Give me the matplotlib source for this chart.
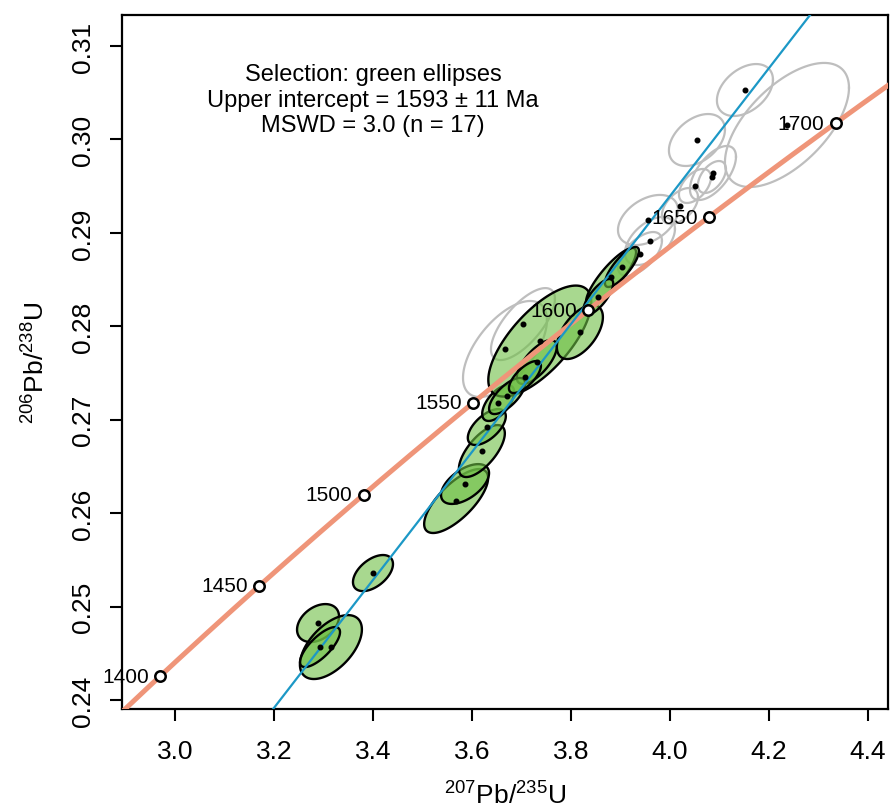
import numpy as np
import matplotlib
matplotlib.use("Agg")
import matplotlib.pyplot as plt

plt.rcParams['font.family'] = ['Liberation Sans', 'DejaVu Sans']
plt.rcParams['mathtext.fontset'] = 'custom'
plt.rcParams['mathtext.rm'] = 'Liberation Sans'
plt.rcParams['mathtext.default'] = 'regular'

# decay constants (1/yr)
lam235 = 9.8485e-10
lam238 = 1.55125e-10

# selected analyses (green): 207Pb/235U, 206Pb/238U, error half-widths, error correlation
sel_x = [3.400, 3.289, 3.315, 3.293, 3.568, 3.586, 3.620, 3.630, 3.653,
         3.737, 3.818, 3.881, 3.903, 3.731, 3.671, 3.707, 3.855]
sel_y = [0.25359, 0.24824, 0.24567, 0.24567, 0.26130, 0.26312, 0.26665, 0.26922, 0.27179,
         0.27842, 0.27939, 0.28528, 0.28635, 0.27618, 0.27254, 0.27457, 0.28313]
sel_ex = [0.0404, 0.0424, 0.0626, 0.0404, 0.0646, 0.0485, 0.0464, 0.0384, 0.0323,
          0.1040, 0.0465, 0.0505, 0.0343, 0.0404, 0.0364, 0.0323, 0.0303]
sel_ey = [0.00193, 0.00203, 0.00342, 0.00214, 0.00342, 0.00213, 0.00278, 0.00192, 0.00192,
          0.00594, 0.00289, 0.00310, 0.00214, 0.00235, 0.00193, 0.00171, 0.00193]
sel_rho = [0.50, 0.35, 0.55, 0.75, 0.72, 0.55, 0.68, 0.60, 0.60,
           0.70, 0.55, 0.85, 0.80, 0.70, 0.70, 0.70, 0.75]

# rejected analyses (grey)
rej_x = [4.1515, 4.0545, 4.2364, 4.0869, 4.0848, 4.0505, 3.9556, 3.9596, 4.0202,
         3.6667, 3.7030, 3.9394]
rej_y = [0.30529, 0.29994, 0.30155, 0.29641, 0.29598, 0.29502, 0.29138, 0.28913, 0.29287,
         0.27757, 0.28024, 0.28774]
rej_ex = [0.0566, 0.0566, 0.1253, 0.0465, 0.0283, 0.0323, 0.0606, 0.0505, 0.0364,
          0.0848, 0.0646, 0.0444]
rej_ey = [0.00278, 0.00278, 0.00664, 0.00289, 0.00171, 0.00182, 0.00268, 0.00257, 0.00193,
          0.00514, 0.00385, 0.00235]
rej_rho = [0.40, 0.40, 0.60, 0.60, 0.50, 0.50, 0.40, 0.50, 0.50, 0.60, 0.70, 0.60]

# concordia age ticks (Ma) and discordia intercepts (Ma)
age_ticks = [1400, 1450, 1500, 1550, 1600, 1650, 1700]
upper_int = 1593
lower_int = 245

xticks = [3.0, 3.2, 3.4, 3.6, 3.8, 4.0, 4.2, 4.4]
yticks = [0.24, 0.25, 0.26, 0.27, 0.28, 0.29, 0.30, 0.31]

info = "Selection: green ellipses\nUpper intercept = 1593 \u00b1 11 Ma\nMSWD = 3.0 (n = 17)"


def conc(t_ma):
    t = np.asarray(t_ma, dtype=float) * 1e6
    return np.exp(lam235 * t) - 1, np.exp(lam238 * t) - 1


def ellipse(x0, y0, ex, ey, rho, n=120):
    t = np.linspace(0, 2 * np.pi, n)
    x = x0 + ex * np.cos(t)
    y = y0 + ey * (rho * np.cos(t) + np.sqrt(1 - rho ** 2) * np.sin(t))
    return x, y


fig = plt.figure(figsize=(8.96, 8.12), dpi=100)
ax = fig.add_axes([0.1362, 0.1256, 0.991 - 0.1362, 0.9803 - 0.1256])

for i in range(len(rej_x)):
    ex, ey = ellipse(rej_x[i], rej_y[i], rej_ex[i], rej_ey[i], rej_rho[i])
    ax.plot(ex, ey, color='#BEBEBE', lw=1.6, zorder=2)

for i in range(len(sel_x)):
    ex, ey = ellipse(sel_x[i], sel_y[i], sel_ex[i], sel_ey[i], sel_rho[i])
    ax.fill(ex, ey, facecolor=(0.43, 0.75, 0.27, 0.6), edgecolor='black', lw=1.7, zorder=3)

# concordia
cx, cy = conc(np.linspace(1300, 1800, 600))
ax.plot(cx, cy, color='#EF9579', lw=3.6, zorder=4, solid_capstyle='butt')

# discordia
ux, uy = conc(upper_int)
lx, ly = conc(lower_int)
slope = (uy - ly) / (ux - lx)
dx = np.array([2.8, 4.6])
ax.plot(dx, uy + slope * (dx - ux), color='#1C98C6', lw=1.6, zorder=5)

ax.plot(sel_x + rej_x, sel_y + rej_y, 'o', color='black', ms=3.3, zorder=6)

tx, ty = conc(age_ticks)
ax.plot(tx, ty, 'o', mfc='white', mec='black', ms=7.5, mew=1.8, zorder=7)
for a, x, y in zip(age_ticks, tx, ty):
    ax.annotate(str(a), (x, y), xytext=(-8, 0), textcoords='offset points',
                ha='right', va='center', fontsize=15, zorder=7)

ax.text(0.328, 0.878, info, transform=ax.transAxes, ha='center', va='center',
        fontsize=17, linespacing=1.2, multialignment='center')

ax.set_xlim(2.893, 4.4404)
ax.set_ylim(0.23904, 0.31332)
ax.set_xticks(xticks)
ax.set_xticklabels(['%.1f' % v for v in xticks])
ax.set_yticks(yticks)
ax.set_yticklabels(['%.2f' % v for v in yticks], rotation=90, va='center')
ax.tick_params(direction='out', length=8.5, width=1.5, labelsize=19)
ax.tick_params(axis='x', pad=13)
ax.tick_params(axis='y', pad=11)
for s in ax.spines.values():
    s.set_linewidth(1.6)

ax.set_xlabel(r'$^{207}$Pb/$^{235}$U', fontsize=19)
ax.xaxis.set_label_coords(0.5, -0.104)
ax.xaxis.label.set_va('top')
ax.set_ylabel(r'$^{206}$Pb/$^{238}$U', fontsize=19)
ax.yaxis.set_label_coords(-0.095, 0.5)

fig.savefig('out.png', dpi=100)
